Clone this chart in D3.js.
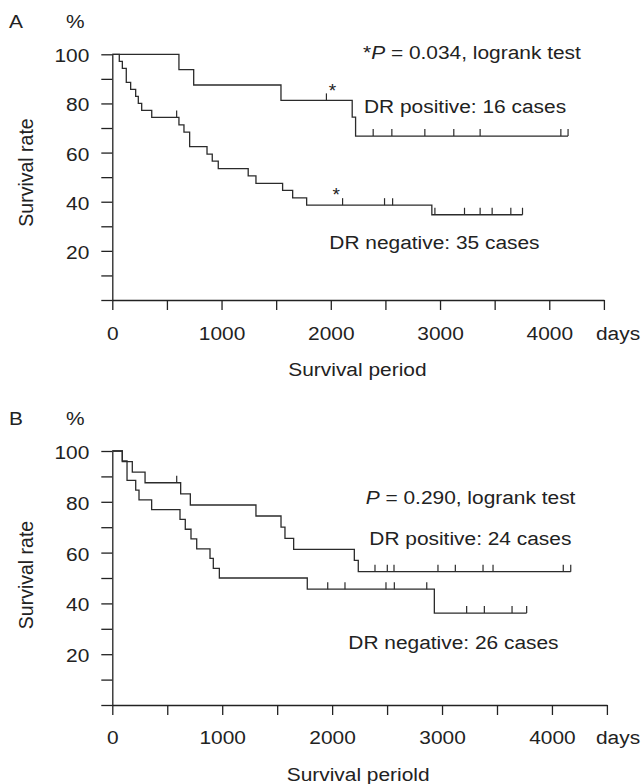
<!DOCTYPE html>
<meta charset="utf-8">
<html>
<head><title>DR survival curves</title>
    <script src="https://cdn.jsdelivr.net/npm/d3@7/dist/d3.min.js"></script>
    <style>
        body { margin: 0; background: #fff; }
        svg text { font-family: "Liberation Sans", Arial, sans-serif; fill: #222; }
        .curve { fill: none; stroke: #2b2b2b; stroke-width: 1.3; }
        .censor { stroke: #2b2b2b; stroke-width: 1.2; }
        .axis path, .axis line { stroke: #222; stroke-width: 1.3; }
    </style>
</head>
<body>
<div id="chart"></div>
<script>

    // axis ticks (days / percent)
    var xTicks = [0, 500, 1000, 1500, 2000, 2500, 3000, 3500, 4000, 4500];
    var xLabelTicks = [0, 1000, 2000, 3000, 4000];
    var yTicks = [0, 10, 20, 30, 40, 50, 60, 70, 80, 90, 100];
    var yLabelTicks = [20, 40, 60, 80, 100];

    // panel A, DR positive (16 cases)
    var aPosTime = [0, 610, 745, 1544, 2196, 2227];
    var aPosSurv = [100, 93.75, 87.5, 81.25, 74.4, 66.7];
    var aPosCensor = [1960, 2388, 2559, 2861, 3126, 3367, 4106, 4172];
    var aPosEnd = 4172;

    // panel A, DR negative (35 cases)
    var aNegTime = [0, 64, 92, 128, 168, 214, 238, 269, 361, 610, 656, 708, 867, 915, 970, 1244, 1315, 1559, 1651, 1779, 2925];
    var aNegSurv = [100, 97.14, 94.29, 88.57, 85.71, 82.86, 80.0, 77.14, 74.29, 71.31, 68.34, 62.4, 59.4, 56.5, 53.5, 50.5, 47.5, 44.6, 41.6, 38.6, 34.7];
    var aNegCensor = [589, 2108, 2492, 2566, 2953, 3224, 3367, 3477, 3648, 3755];
    var aNegEnd = 3755;

    // panel B, DR positive (24 cases)
    var bPosTime = [0, 91, 182, 298, 622, 710, 1307, 1535, 1571, 1650, 2202, 2238];
    var bPosSurv = [100, 95.83, 91.67, 87.5, 83.1, 78.75, 74.4, 70.0, 65.6, 61.3, 56.9, 52.5];
    var bPosCensor = [586, 2390, 2502, 2563, 2963, 3121, 3373, 3464, 4103, 4171];
    var bPosEnd = 4171;

    // panel B, DR negative (26 cases)
    var bNegTime = [0, 91, 134, 213, 243, 358, 616, 664, 716, 768, 889, 919, 974, 1774, 2930];
    var bNegSurv = [100, 96.15, 88.46, 84.6, 80.77, 76.9, 73.1, 69.2, 65.4, 61.5, 57.7, 53.8, 50.0, 45.6, 36.2];
    var bNegCensor = [1960, 2117, 2490, 2566, 2861, 3224, 3385, 3637, 3770];
    var bNegEnd = 3770;

    // asterisks next to censor marks in panel A (days, %)
    var aStars = [[2015, 87.1], [2050, 44.8]];

    var W = 643, H = 784, stretch = 1.1, fs = 19;

    var svg = d3.select("#chart").append("svg")
            .attr("width", W)
            .attr("height", H);

    function addText(g, x, y, str) {
        return g.append("text")
                .attr("transform", "translate(" + x + "," + y + ") scale(" + stretch + ",1)")
                .attr("font-size", fs)
                .text(str);
    }

    function drawCurve(g, x, y, times, surv, end, censor) {
        var pts = times.map(function(t, i) { return [t, surv[i]]; });
        pts.push([end, surv[surv.length - 1]]);
        var line = d3.line()
                .x(function(d) { return x(d[0]); })
                .y(function(d) { return y(d[1]); })
                .curve(d3.curveStepAfter);
        g.append("path").attr("class", "curve").attr("d", line(pts));

        censor.forEach(function(t) {
            var s = surv[d3.bisectRight(times, t) - 1];
            g.append("line")
                    .attr("class", "censor")
                    .attr("x1", x(t)).attr("x2", x(t))
                    .attr("y1", y(s)).attr("y2", y(s) - 7);
        });
    }

    function drawPanel(p) {
        var g = svg.append("g");
        var x = d3.scaleLinear().domain([0, 4500]).range([p.left, p.right]);
        var y = d3.scaleLinear().domain([0, 100]).range([p.bottom, p.top]);

        var yAxis = g.append("g")
                .attr("class", "axis")
                .attr("transform", "translate(" + p.left + ",0)")
                .call(d3.axisLeft(y).tickValues(yTicks).tickSize(11).tickSizeOuter(0)
                        .tickFormat(function(d) { return yLabelTicks.indexOf(d) >= 0 ? d : ""; }));
        yAxis.selectAll("text")
                .attr("x", 0).attr("dy", null)
                .attr("font-size", fs).attr("font-family", null)
                .attr("transform", "translate(-23,7.5) scale(" + stretch + ",1)");

        var xAxis = g.append("g")
                .attr("class", "axis")
                .attr("transform", "translate(0," + p.bottom + ")")
                .call(d3.axisBottom(x).tickValues(xTicks).tickSize(10).tickSizeOuter(0)
                        .tickFormat(function(d) { return xLabelTicks.indexOf(d) >= 0 ? d : ""; }));
        xAxis.selectAll("text")
                .attr("y", 0).attr("dy", null)
                .attr("font-size", fs).attr("font-family", null)
                .attr("transform", "translate(0," + p.labelGap + ") scale(" + stretch + ",1)");
        g.selectAll(".axis .domain").attr("stroke", "#222");

        addText(g, 596, p.bottom + p.labelGap, "days");
        addText(g, p.titleX, p.bottom + p.titleGap, p.xTitle);

        g.append("text")
                .attr("transform", "translate(33," + p.yTitleMid + ") rotate(-90)")
                .attr("text-anchor", "middle")
                .attr("font-size", 19.5)
                .text("Survival rate");

        addText(g, 9, p.top - 26.5, p.letter);
        addText(g, 66, p.top - 26.5, "%");

        drawCurve(g, x, y, p.pos.time, p.pos.surv, p.pos.end, p.pos.censor);
        drawCurve(g, x, y, p.neg.time, p.neg.surv, p.neg.end, p.neg.censor);

        // p value line
        var pt = addText(g, p.pX, p.pY, "");
        if (p.star) pt.append("tspan").text("*");
        pt.append("tspan").attr("font-style", "italic").text("P");
        pt.append("tspan").text(" = " + p.pValue + ", logrank test");

        addText(g, p.posLabel[0], p.posLabel[1], p.posText);
        addText(g, p.negLabel[0], p.negLabel[1], p.negText);

        p.stars.forEach(function(s) {
            g.append("text")
                    .attr("x", x(s[0])).attr("y", y(s[1]) + 11)
                    .attr("text-anchor", "middle")
                    .attr("font-size", fs)
                    .text("*");
        });
    }

    drawPanel({
        letter: "A", top: 54.3, bottom: 300, left: 112.3, right: 603.9,
        labelGap: 40, titleGap: 76, titleX: 288.3, xTitle: "Survival period", yTitleMid: 172.5,
        pos: {time: aPosTime, surv: aPosSurv, censor: aPosCensor, end: aPosEnd},
        neg: {time: aNegTime, surv: aNegSurv, censor: aNegCensor, end: aNegEnd},
        star: true, pValue: "0.034", pX: 363, pY: 59.3,
        posText: "DR positive: 16 cases", posLabel: [364, 113.3],
        negText: "DR negative: 35 cases", negLabel: [329.3, 249.3],
        stars: aStars
    });

    drawPanel({
        letter: "B", top: 451, bottom: 705, left: 112.3, right: 606.9,
        labelGap: 39.3, titleGap: 76, titleX: 286.7, xTitle: "Survival periold", yTitleMid: 575,
        pos: {time: bPosTime, surv: bPosSurv, censor: bPosCensor, end: bPosEnd},
        neg: {time: bNegTime, surv: bNegSurv, censor: bNegCensor, end: bNegEnd},
        star: false, pValue: "0.290", pX: 365.7, pY: 504.3,
        posText: "DR positive: 24 cases", posLabel: [369.3, 545.3],
        negText: "DR negative: 26 cases", negLabel: [348.3, 649.3],
        stars: []
    });

</script>
</body>
</html>
